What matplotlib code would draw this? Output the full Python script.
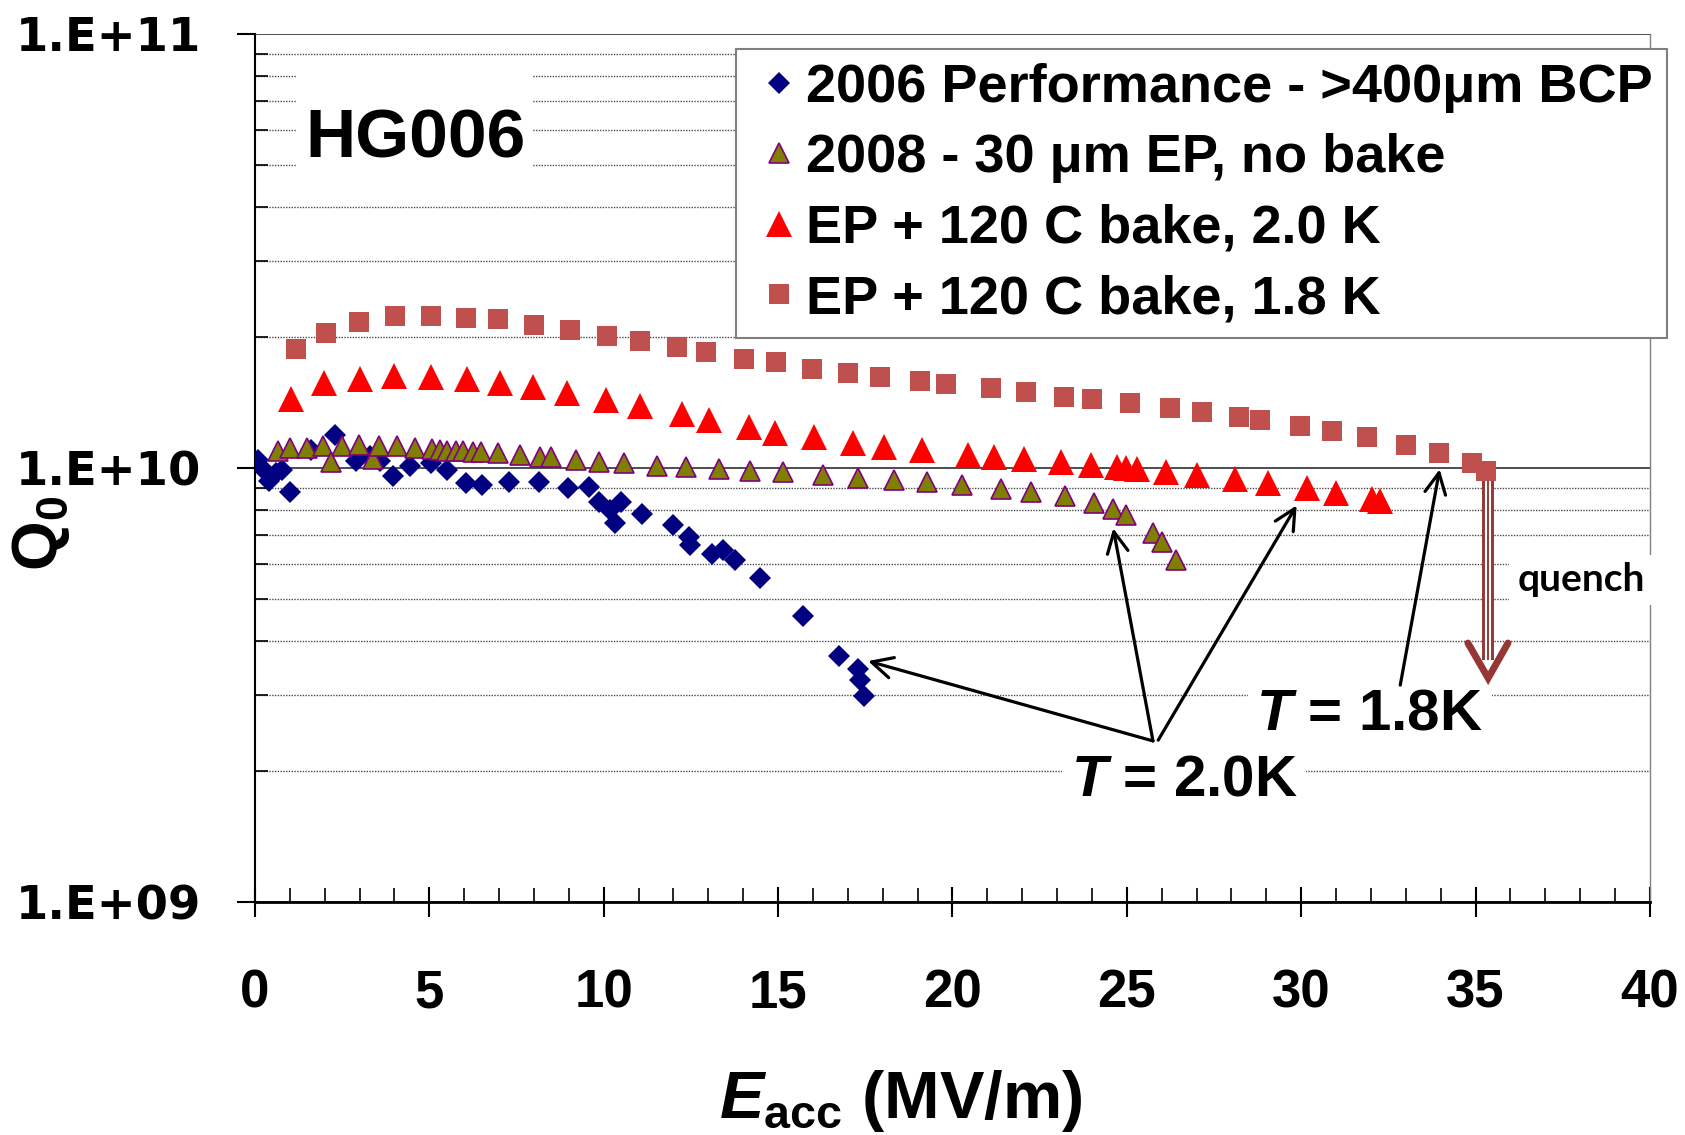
import numpy as np
import matplotlib
matplotlib.use("Agg")
import matplotlib.pyplot as plt
import matplotlib.ticker as mticker
from matplotlib.patches import Rectangle
from matplotlib.transforms import offset_copy

plt.rcParams['font.family'] = 'Liberation Sans'
plt.rcParams['font.weight'] = 'bold'
plt.rcParams['mathtext.fontset'] = 'custom'
plt.rcParams['mathtext.rm'] = 'Liberation Sans:bold'
plt.rcParams['mathtext.it'] = 'Liberation Sans:italic:bold'
plt.rcParams['mathtext.bf'] = 'Liberation Sans:bold'

# Q0 values are stored in units of 1e10
# 2006 performance, >400 um BCP (2.0 K)
e_bcp = [0.1, 0.25, 0.4, 0.6, 0.78, 1.0, 1.6, 2.3, 2.9, 3.3, 3.6, 3.97, 4.44, 5.05, 5.5,
         6.04, 6.52, 7.28, 8.14, 8.97, 9.58, 9.87, 10.18, 10.32, 10.51, 11.1, 12.0, 12.45,
         12.47, 13.1, 13.43, 13.76, 14.48, 15.72, 16.75, 17.3, 17.35, 17.46]
q_bcp = [1.045, 0.99, 0.935, 0.975, 0.99, 0.88, 1.10, 1.19, 1.035, 1.065, 1.035, 0.959,
         1.011, 1.025, 0.989, 0.925, 0.914, 0.927, 0.93, 0.898, 0.906, 0.836, 0.80, 0.748,
         0.836, 0.783, 0.739, 0.695, 0.663, 0.634, 0.647, 0.614, 0.559, 0.456, 0.369,
         0.344, 0.325, 0.298]

# 2008, 30 um EP, no bake (2.0 K)
e_ep = [0.65, 1.0, 1.48, 1.95, 2.17, 2.49, 2.99, 3.39, 3.57, 4.08, 4.6, 5.07, 5.32, 5.52,
        5.76, 5.98, 6.25, 6.49, 6.97, 7.59, 8.17, 8.48, 9.22, 9.87, 10.59, 11.52, 12.36,
        13.3, 14.2, 15.15, 16.28, 17.28, 18.33, 19.28, 20.27, 21.38, 22.26, 23.22, 24.06,
        24.61, 24.97, 25.74, 26.0, 26.41]
q_ep = [1.096, 1.11, 1.114, 1.125, 1.034, 1.125, 1.13, 1.047, 1.125, 1.125, 1.114, 1.104,
        1.10, 1.096, 1.094, 1.094, 1.09, 1.09, 1.085, 1.072, 1.062, 1.058, 1.043, 1.034,
        1.025, 1.011, 1.007, 0.997, 0.984, 0.981, 0.963, 0.95, 0.938, 0.927, 0.913, 0.896,
        0.88, 0.861, 0.832, 0.804, 0.78, 0.707, 0.676, 0.614]

# EP + 120 C bake at 2.0 K
e_bake20 = [1.04, 1.99, 3.01, 4.0, 5.06, 6.08, 7.03, 7.97, 8.94, 10.08, 11.04, 12.25, 13.02,
            14.17, 14.9, 16.04, 17.14, 18.05, 19.13, 20.44, 21.2, 22.04, 23.1, 23.98, 24.73,
            24.99, 25.29, 26.11, 27.0, 28.09, 29.06, 30.16, 31.0, 32.04, 32.26]
q_bake20 = [1.445, 1.57, 1.605, 1.627, 1.622, 1.603, 1.567, 1.534, 1.487, 1.435, 1.388,
            1.328, 1.288, 1.245, 1.205, 1.18, 1.143, 1.12, 1.099, 1.073, 1.06, 1.046, 1.03,
            1.017, 1.004, 1.001, 0.996, 0.981, 0.965, 0.944, 0.923, 0.898, 0.876, 0.85, 0.839]

# EP + 120 C bake at 1.8 K
e_bake18 = [1.18, 2.03, 2.99, 4.02, 5.04, 6.04, 6.96, 7.99, 9.02, 10.10, 11.03, 12.11,
            12.92, 14.01, 14.93, 15.97, 17.0, 17.92, 19.07, 19.82, 21.1, 22.12, 23.2, 23.99,
            25.1, 26.25, 27.15, 28.21, 28.81, 29.96, 30.89, 31.89, 33.0, 33.96, 34.9, 35.31]
q_bake18 = [1.88, 2.05, 2.17, 2.24, 2.24, 2.22, 2.20, 2.14, 2.08, 2.01, 1.96, 1.90, 1.85,
            1.78, 1.75, 1.69, 1.658, 1.623, 1.587, 1.562, 1.529, 1.499, 1.459, 1.439, 1.41,
            1.375, 1.346, 1.31, 1.29, 1.25, 1.216, 1.18, 1.128, 1.08, 1.028, 0.986]

labels = ['2006 Performance - >400\u03bcm BCP',
          '2008 - 30 \u03bcm EP, no bake',
          'EP + 120 C bake, 2.0 K',
          'EP + 120 C bake, 1.8 K']

ytick_vals = [1e9, 1e10, 1e11]
ytick_labels = ['1.E+09', '1.E+10', '1.E+11']

fig = plt.figure(figsize=(16.85, 11.35), dpi=100)
ax = fig.add_axes([0.1513, 0.2053, 0.8279, 0.7648])
ax.set_yscale('log')
ax.set_xlim(0, 40)
ax.set_ylim(1e9, 1e11)
ax.set_axisbelow(True)

scale = 1e10
ax.plot(e_bcp, np.array(q_bcp) * scale, ls='none', marker='D', ms=11.2,
        mfc='#000080', mec='#000080', mew=0, label=labels[0], zorder=3)
ax.plot(e_ep, np.array(q_ep) * scale, ls='none', marker='^', ms=14.5,
        mfc='#808000', mec='#800080', mew=1.2, label=labels[1], zorder=4)
ax.plot(e_bake20, np.array(q_bake20) * scale, ls='none', marker='^', ms=19.4,
        mfc='#FF0000', mec='#FF0000', mew=0, label=labels[2], zorder=4)
ax.plot(e_bake18, np.array(q_bake18) * scale, ls='none', marker='s', ms=14.4,
        mfc='#C0504D', mec='#C0504D', mew=0, label=labels[3], zorder=4)

# axes, ticks and grid
ax.set_yticks(ytick_vals, ytick_labels, fontfamily='DejaVu Sans', fontweight='bold',
              fontsize=33.5)
ax.yaxis.set_minor_locator(mticker.LogLocator(base=10, subs=np.arange(2, 10)))
ax.yaxis.set_minor_formatter(mticker.NullFormatter())
ax.set_xticks(range(0, 41, 5))
ax.xaxis.set_minor_locator(mticker.MultipleLocator(1))

ax.tick_params(axis='y', which='major', direction='out', length=13, width=1.5, pad=26)
ax.tick_params(axis='y', which='minor', direction='in', length=9.4, width=1.2)
ax.tick_params(axis='x', which='major', direction='inout', length=22, width=1.5,
               pad=37, labelsize=38)
ax.tick_params(axis='x', which='minor', direction='in', length=10, width=1.2)

ax.grid(True, which='major', axis='y', color='#3f3f3f', lw=1.3, ls='-')
ax.grid(True, which='minor', axis='y', color='#4a4a4a', lw=1.0, ls=(0, (1, 1)))

ax.spines['top'].set_visible(False)
ax.spines['right'].set_color('#808080')
ax.spines['right'].set_linewidth(1.0)
ax.spines['left'].set_linewidth(1.5)
ax.spines['bottom'].set_linewidth(2.0)

fig.text(0.5347, 0.015, r'$E_{\mathrm{acc}}$ (MV/m)', fontsize=48, ha='center',
         va='baseline')
fig.text(0.0243, 0.5300, r'$\mathrm{Q}_\mathrm{0}$', fontsize=46, rotation=90,
         ha='center', va='center')

# legend
ax.legend(loc='upper left', bbox_to_anchor=(736 / 1685, 1 - 49 / 1135),
          bbox_transform=fig.transFigure, borderaxespad=0, fontsize=39,
          borderpad=0.26, handlelength=1.05, handletextpad=-0.02, labelspacing=0.375,
          fancybox=False, framealpha=1, edgecolor='#7f7f7f', numpoints=1)
ax.get_legend().get_frame().set_linewidth(1.5)

# cavity name
ax.add_patch(Rectangle((0.0294, 0.836), 0.1692, 0.124, transform=ax.transAxes,
                       facecolor='white', edgecolor='none', zorder=1))
ax.text(0.1154, 0.8786, 'HG006', transform=ax.transAxes, fontsize=50,
        ha='center', va='center', zorder=3)

# temperature labels with arrows
box = dict(boxstyle='square,pad=0.15', facecolor='white', edgecolor='none')
ax.text(26.64, 1.907e9, r'$T$ = 2.0K', fontsize=42, ha='center', va='center',
        bbox=box, zorder=3)
ax.text(31.97, 2.71e9, r'$T$ = 1.8K', fontsize=42, ha='center', va='center',
        bbox=box, zorder=3)

arrow = dict(arrowstyle='->,head_length=0.6,head_width=0.3', color='black', lw=2.3,
             shrinkA=0, shrinkB=0, mutation_scale=25)
ax.annotate('', xy=(17.58, 3.59e9), xytext=(25.75, 2.35e9), arrowprops=arrow, zorder=5)
ax.annotate('', xy=(24.61, 7.26e9), xytext=(25.75, 2.35e9), arrowprops=arrow, zorder=5)
ax.annotate('', xy=(29.87, 8.2e9), xytext=(25.9, 2.36e9), arrowprops=arrow, zorder=5)
ax.annotate('', xy=(33.97, 9.93e9), xytext=(32.84, 3.16e9), arrowprops=arrow, zorder=5)

# quench arrow: striped shaft plus open head
qcol = '#953735'
ax.plot([35.36, 35.36], [9.38e9, 3.61e9], color=qcol, lw=8.6, solid_capstyle='butt',
        zorder=3)
for dx in (-2.3, 2.3):
    tr = offset_copy(ax.transData, fig=fig, x=dx, y=0, units='dots')
    ax.plot([35.36, 35.36], [9.38e9, 3.61e9], color='white', lw=1.5,
            solid_capstyle='butt', transform=tr, zorder=3)
ax.plot([34.78, 35.36, 35.93], [3.95e9, 3.28e9, 3.95e9], color=qcol, lw=5,
        solid_capstyle='round', solid_joinstyle='miter', zorder=3)
ax.text(38.02, 5.52e9, 'quench', fontfamily='Lato', fontweight='bold', fontsize=28,
        ha='center', va='center',
        bbox=dict(boxstyle='square,pad=0.2', facecolor='white', edgecolor='none'),
        zorder=3)

fig.savefig('out.png', dpi=100)
